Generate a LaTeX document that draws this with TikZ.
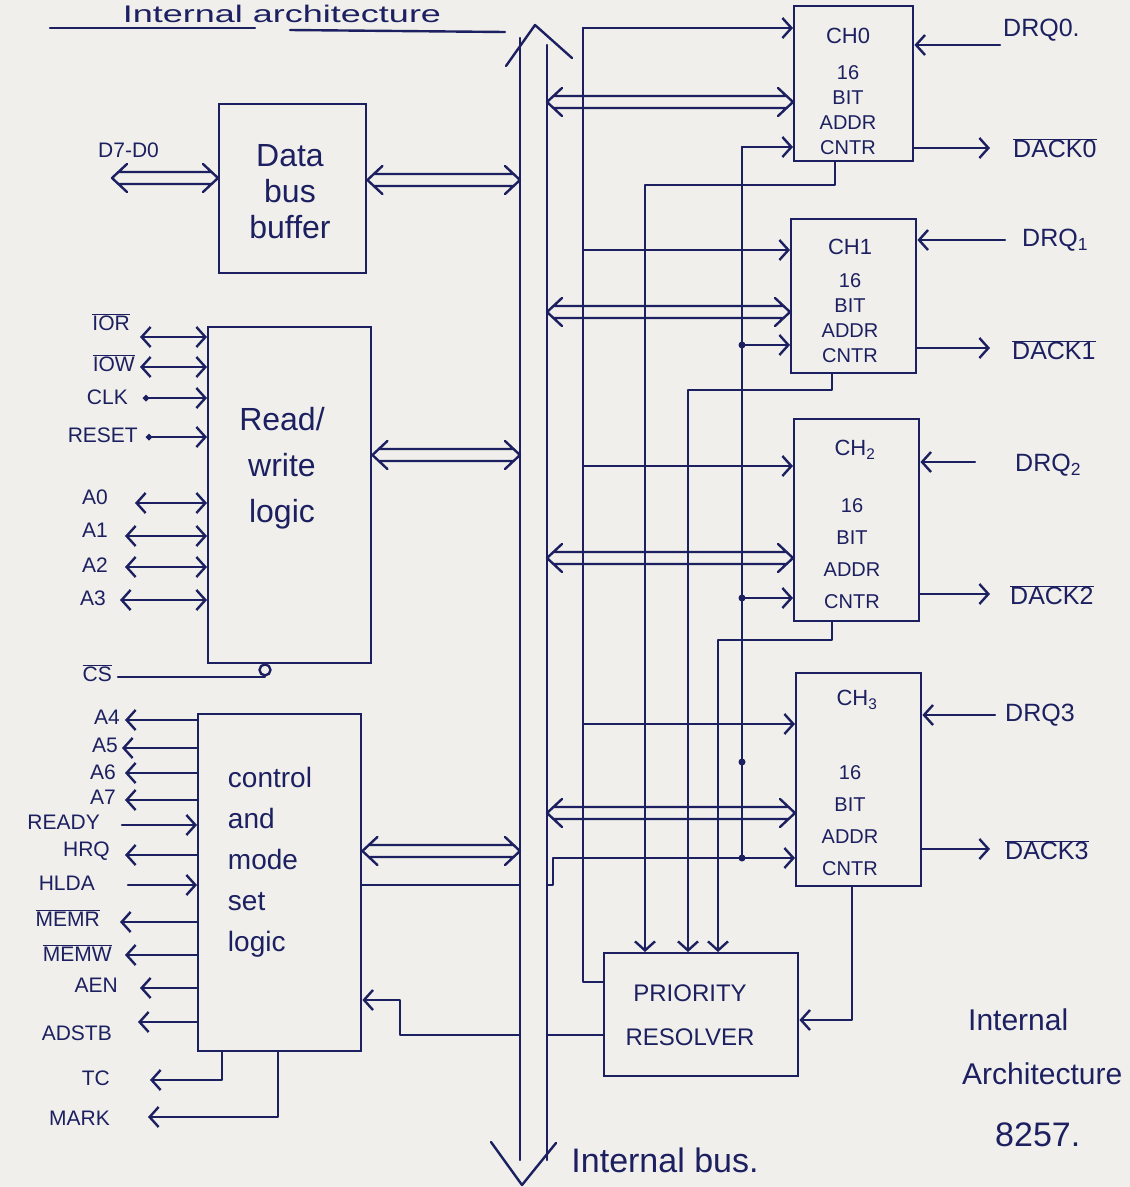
\documentclass[tikz,border=0pt]{standalone}
\usepackage{fontspec}
\setmainfont{Liberation Sans}
\usetikzlibrary{arrows.meta,calc}
\definecolor{ink}{RGB}{28,32,96}
\definecolor{paper}{RGB}{240,239,235}
\newcommand{\ovl}[1]{$\overline{\mbox{#1}}$}
\newcommand{\hollowarr}[2]{%
 \draw[ink,line width=2.4pt,line join=round,line cap=round] let \p1=(#1), \p2=(#2) in
  (\x1+15pt,\y1+14pt) -- (\x1,\y1) -- (\x1+15pt,\y1-14pt)
  (\x2-15pt,\y2+14pt) -- (\x2,\y2) -- (\x2-15pt,\y2-14pt)
  (\x1+7pt,\y1+6pt) -- (\x2-7pt,\y2+6pt)
  (\x1+7pt,\y1-6pt) -- (\x2-7pt,\y2-6pt);}
\tikzset{
 wire/.style={draw=ink,line width=2.4pt,line cap=round,line join=round},
 sig/.style={wire,-{Straight Barb[length=9pt,width=20pt]}},
 bid/.style={wire,{Straight Barb[length=9pt,width=20pt]}-{Straight Barb[length=9pt,width=20pt]}},
 dotin/.style={wire,{Circle[length=6pt]}-{Straight Barb[length=9pt,width=20pt]}},
 blk/.style={draw=ink,line width=2.4pt,inner sep=0pt,anchor=north west},
 pinl/.style={text=ink,inner sep=0pt,anchor=east,font=\fontsize{21}{23}\selectfont},
 pinr/.style={text=ink,inner sep=0pt,anchor=west,font=\fontsize{25}{28}\selectfont},
 big/.style={text=ink,inner sep=0pt,align=center},
 chtxt/.style={text=ink,inner sep=0pt,align=center,font=\fontsize{20}{25}\selectfont},
 jdot/.style={fill=ink,circle,inner sep=0pt,minimum size=7pt}
}
\begin{document}
\begin{tikzpicture}[x=1pt,y=-1pt]
\useasboundingbox (0,0) rectangle (1130,1187);
\clip (0,0) rectangle (1130,1187);
\fill[paper] (0,0) rectangle (1130,1187);

% title
\node[big,anchor=base,font=\fontsize{24}{26}\selectfont,xscale=1.5,transform shape] (title) at (282,22) {Internal architecture};
\draw[wire] (50,28) -- (255,28);
\draw[wire] (290,30) -- (505,32);

% blocks
\node[blk,minimum width=147pt,minimum height=169pt] (dbb) at (218,103) {};
\node[blk,minimum width=163pt,minimum height=336pt] (rw) at (207,326) {};
\node[blk,minimum width=163pt,minimum height=337pt] (ctrl) at (197,713) {};
\node[blk,minimum width=119pt,minimum height=155pt] (ch0) at (793,5) {};
\node[blk,minimum width=125pt,minimum height=154pt] (ch1) at (790,218) {};
\node[blk,minimum width=125pt,minimum height=202pt] (ch2) at (793,418) {};
\node[blk,minimum width=125pt,minimum height=213pt] (ch3) at (795,672) {};
\node[blk,minimum width=194pt,minimum height=123pt] (pr) at (603,952) {};

% block texts
\node[big,font=\fontsize{32}{36}\selectfont] (tdbb) at (290,192) {Data\\bus\\buffer};
\node[big,font=\fontsize{32}{46}\selectfont] (trw) at (282,468) {Read/\\write\\logic};
\node[big,align=left,font=\fontsize{28}{41}\selectfont] (tctrl) at (270,862) {control\\and\\mode\\set\\logic};
\node[chtxt,font=\fontsize{22}{25}\selectfont] (tch0a) at (848,36) {CH0};
\node[chtxt] (tch0b) at (848,110) {16\\BIT\\ADDR\\CNTR};
\node[chtxt,font=\fontsize{22}{25}\selectfont] (tch1a) at (850,247) {CH1};
\node[chtxt] (tch1b) at (850,318) {16\\BIT\\ADDR\\CNTR};
\node[chtxt,font=\fontsize{22}{25}\selectfont] (tch2a) at (855,450) {CH\textsubscript{2}};
\node[chtxt,font=\fontsize{20}{32}\selectfont] (tch2b) at (852,554) {16\\BIT\\ADDR\\CNTR};
\node[chtxt,font=\fontsize{22}{25}\selectfont] (tch3a) at (857,700) {CH\textsubscript{3}};
\node[chtxt,font=\fontsize{20}{32}\selectfont] (tch3b) at (850,821) {16\\BIT\\ADDR\\CNTR};
\node[big,font=\fontsize{24}{44}\selectfont] (tpr) at (690,1015) {PRIORITY\\RESOLVER};

% internal bus
\coordinate (busLt) at (520,38);
\coordinate (busLb) at (520,1160);
\coordinate (busRt) at (547,45);
\coordinate (busRb) at (547,1160);
\draw[wire] (busLt) -- (busLb);
\draw[wire] (busRt) -- (busRb);
\draw[wire] (506,66) -- (535,25) -- (572,58);
\draw[wire] (491,1142) -- (522,1185) -- (556,1143);
\node[big,anchor=base,font=\fontsize{34}{38}\selectfont] (tbus) at (665,1172) {Internal bus.};

% hollow (bus) arrows
\coordinate (pD) at (112,178);
\node[pinl,anchor=south west] (lD) at (98,158) {D7-D0};
\hollowarr{pD}{dbb.west |- pD}
\hollowarr{dbb.east |- 0,180}{busLt |- 0,180}
\hollowarr{rw.east |- 0,455}{busLt |- 0,455}
\hollowarr{ctrl.east |- 0,851}{busLt |- 0,851}
\hollowarr{busRt |- 0,102}{ch0.west |- 0,102}
\hollowarr{busRt |- 0,312}{ch1.west |- 0,312}
\hollowarr{busRt |- 0,558}{ch2.west |- 0,558}
\hollowarr{busRt |- 0,813}{ch3.west |- 0,813}

% read/write pins
\node[pinl] (lIOR) at (130,322) {\ovl{IOR}};
\node[pinl] (lIOW) at (135,363) {\ovl{IOW}};
\node[pinl] (lCLK) at (128,397) {CLK};
\node[pinl] (lRST) at (138,435) {RESET};
\node[pinl] (lA0) at (108,497) {A0};
\node[pinl] (lA1) at (108,530) {A1};
\node[pinl] (lA2) at (108,565) {A2};
\node[pinl] (lA3) at (106,598) {A3};
\node[pinl] (lCS) at (112,673) {\ovl{CS}};
\coordinate (pIOR) at (140,337);
\coordinate (pIOW) at (140,367);
\coordinate (pCLK) at (143,398);
\coordinate (pRST) at (146,437);
\coordinate (pA0) at (135,503);
\coordinate (pA1) at (125,536);
\coordinate (pA2) at (125,567);
\coordinate (pA3) at (120,600);
\coordinate (pCS) at (118,677);
\draw[bid] (pIOR) -- (rw.west |- pIOR);
\draw[bid] (pIOW) -- (rw.west |- pIOW);
\draw[dotin] (pCLK) -- (rw.west |- pCLK);
\draw[dotin] (pRST) -- (rw.west |- pRST);
\draw[bid] (pA0) -- (rw.west |- pA0);
\draw[bid] (pA1) -- (rw.west |- pA1);
\draw[bid] (pA2) -- (rw.west |- pA2);
\draw[bid] (pA3) -- (rw.west |- pA3);
\draw[wire] (pCS) -- (265,677) -- (265,675);
\draw[wire] ($(rw.south -| 265,0)+(0,5.5)$) circle (5.5pt);

% control pins
\node[pinl] (lA4) at (120,717) {A4};
\node[pinl] (lA5) at (118,745) {A5};
\node[pinl] (lA6) at (116,772) {A6};
\node[pinl] (lA7) at (116,797) {A7};
\node[pinl] (lRDY) at (100,822) {READY};
\node[pinl] (lHRQ) at (110,851) {HRQ};
\node[pinl] (lHLDA) at (95,883) {HLDA};
\node[pinl] (lMEMR) at (100,918) {\ovl{MEMR}};
\node[pinl] (lMEMW) at (112,953) {\ovl{MEMW}};
\node[pinl] (lAEN) at (118,985) {AEN};
\node[pinl] (lADSTB) at (112,1033) {ADSTB};
\node[pinl] (lTC) at (110,1078) {TC};
\node[pinl] (lMARK) at (110,1118) {MARK};
\coordinate (pA4) at (125,720);
\coordinate (pA5) at (122,748);
\coordinate (pA6) at (125,773);
\coordinate (pA7) at (125,800);
\coordinate (pRDY) at (122,825);
\coordinate (pHRQ) at (125,855);
\coordinate (pHLDA) at (128,885);
\coordinate (pMEMR) at (120,922);
\coordinate (pMEMW) at (125,955);
\coordinate (pAEN) at (140,988);
\coordinate (pADSTB) at (138,1022);
\coordinate (pTC) at (150,1080);
\coordinate (pMARK) at (148,1117);
\draw[sig] (ctrl.west |- pA4) -- (pA4);
\draw[sig] (ctrl.west |- pA5) -- (pA5);
\draw[sig] (ctrl.west |- pA6) -- (pA6);
\draw[sig] (ctrl.west |- pA7) -- (pA7);
\draw[sig] (pRDY) -- (ctrl.west |- pRDY);
\draw[sig] (ctrl.west |- pHRQ) -- (pHRQ);
\draw[sig] (pHLDA) -- (ctrl.west |- pHLDA);
\draw[sig] (ctrl.west |- pMEMR) -- (pMEMR);
\draw[sig] (ctrl.west |- pMEMW) -- (pMEMW);
\draw[sig] (ctrl.west |- pAEN) -- (pAEN);
\draw[sig] (ctrl.west |- pADSTB) -- (pADSTB);
\draw[sig] (ctrl.south -| 222,0) -- (222,1080) -- (pTC);
\draw[sig] (ctrl.south -| 278,0) -- (278,1117) -- (pMARK);

% channel right side
\node[pinr] (lDRQ0) at (1003,30) {DRQ0.};
\node[pinr] (lDACK0) at (1013,148) {\ovl{DACK0}};
\node[pinr] (lDRQ1) at (1022,240) {DRQ\textsubscript{1}};
\node[pinr] (lDACK1) at (1012,350) {\ovl{DACK1}};
\node[pinr] (lDRQ2) at (1015,465) {DRQ\textsubscript{2}};
\node[pinr] (lDACK2) at (1010,595) {\ovl{DACK2}};
\node[pinr] (lDRQ3) at (1005,715) {DRQ3};
\node[pinr] (lDACK3) at (1005,850) {\ovl{DACK3}};
\coordinate (pDRQ0) at (1000,45);
\coordinate (pDACK0) at (990,148);
\coordinate (pDRQ1) at (1005,240);
\coordinate (pDACK1) at (990,348);
\coordinate (pDRQ2) at (975,462);
\coordinate (pDACK2) at (990,594);
\coordinate (pDRQ3) at (995,715);
\coordinate (pDACK3) at (990,849);
\draw[sig] (pDRQ0) -- (ch0.east |- pDRQ0);
\draw[sig] (ch0.east |- pDACK0) -- (pDACK0);
\draw[sig] (pDRQ1) -- (ch1.east |- pDRQ1);
\draw[sig] (ch1.east |- pDACK1) -- (pDACK1);
\draw[sig] (pDRQ2) -- (ch2.east |- pDRQ2);
\draw[sig] (ch2.east |- pDACK2) -- (pDACK2);
\draw[sig] (pDRQ3) -- (ch3.east |- pDRQ3);
\draw[sig] (ch3.east |- pDACK3) -- (pDACK3);

% priority resolver outputs to channels (line A)
\coordinate (aTop) at (583,28);
\coordinate (aBot) at (583,982);
\draw[wire] (pr.west |- aBot) -- (aBot) -- (aTop);
\draw[sig] (aTop) -- (ch0.west |- aTop);
\draw[sig] (aTop |- 0,250) -- (ch1.west |- 0,250);
\draw[sig] (aTop |- 0,466) -- (ch2.west |- 0,466);
\draw[sig] (aTop |- 0,724) -- (ch3.west |- 0,724);

% channel requests to priority resolver
\draw[sig] (ch0.south -| 835,0) -- (835,185) -- (645,185) -- (pr.north -| 645,0);
\draw[sig] (ch1.south -| 832,0) -- (832,390) -- (688,390) -- (pr.north -| 688,0);
\draw[sig] (ch2.south -| 832,0) -- (832,640) -- (718,640) -- (pr.north -| 718,0);
\draw[sig] (ch3.south -| 852,0) -- (852,1020) -- (pr.east |- 0,1020);

% control logic to counters (line E)
\coordinate (eTop) at (742,147);
\coordinate (eBot) at (742,858);
\draw[wire] (ctrl.east |- 0,885) -- (busLt |- 0,885);
\draw[sig] (busRt |- 0,885) -- (553,885) -- (553,858) -- (ch3.west |- eBot);
\draw[wire] (eBot) -- (eTop);
\draw[sig] (eTop) -- (ch0.west |- eTop);
\draw[sig] (eTop |- 0,345) -- (ch1.west |- 0,345);
\draw[sig] (eTop |- 0,598) -- (ch2.west |- 0,598);
\node[jdot] (d1) at (eTop |- 0,345) {};
\node[jdot] (d2) at (eTop |- 0,598) {};
\node[jdot] (d3) at (eTop |- 0,762) {};
\node[jdot] (d4) at (eBot) {};

% priority resolver to control logic
\draw[wire] (pr.west |- 0,1035) -- (busRt |- 0,1035);
\draw[sig] (busLt |- 0,1035) -- (400,1035) -- (400,1000) -- (ctrl.east |- 0,1000);

% caption
\node[big,anchor=west,font=\fontsize{30}{34}\selectfont] (cap1) at (968,1020) {Internal};
\node[big,anchor=west,font=\fontsize{30}{34}\selectfont] (cap2) at (962,1074) {Architecture};
\node[big,anchor=west,font=\fontsize{34}{38}\selectfont] (cap3) at (995,1135) {8257.};
\end{tikzpicture}
\end{document}
